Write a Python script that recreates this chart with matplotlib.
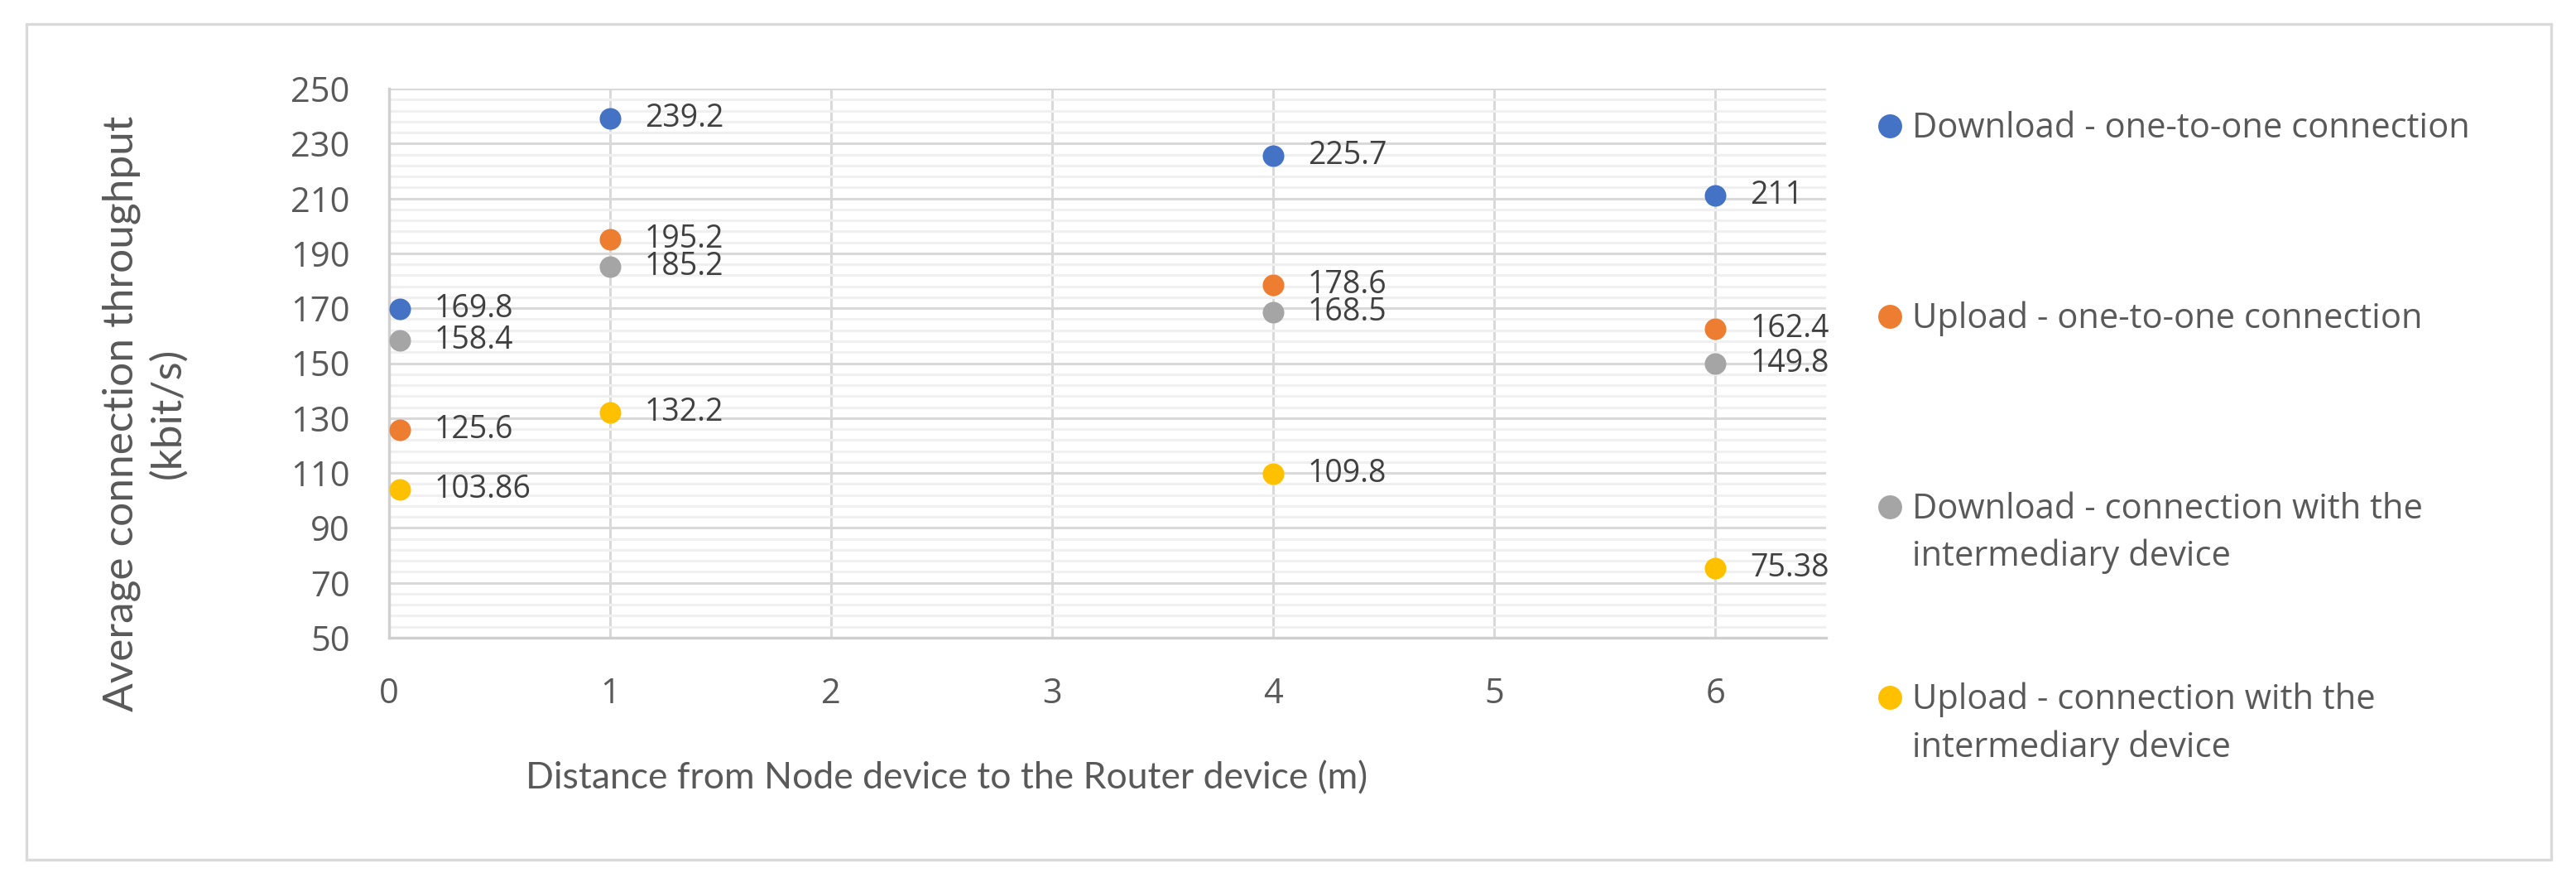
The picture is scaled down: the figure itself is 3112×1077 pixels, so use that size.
#!/usr/bin/env python3

# Throughput vs distance scatter (Excel-style chart)

import matplotlib
matplotlib.use("Agg")
import matplotlib.pyplot as plt
import numpy as np
from matplotlib.lines import Line2D
from matplotlib.patches import Rectangle

distance = [0.05, 1, 4, 6]

down_direct = [169.8, 239.2, 225.7, 211]
up_direct = [125.6, 195.2, 178.6, 162.4]
down_inter = [158.4, 185.2, 168.5, 149.8]
up_inter = [103.86, 132.2, 109.8, 75.38]

point_labels = [
    ["169.8", "239.2", "225.7", "211"],
    ["125.6", "195.2", "178.6", "162.4"],
    ["158.4", "185.2", "168.5", "149.8"],
    ["103.86", "132.2", "109.8", "75.38"],
]

series_names = [
    "Download - one-to-one connection",
    "Upload - one-to-one connection",
    "Download - connection with the\nintermediary device",
    "Upload - connection with the\nintermediary device",
]
colors = ["#4472C4", "#ED7D31", "#A5A5A5", "#FFC000"]

W, H = 3112, 1077
DPI = 200
TXT = "#595959"

fig = plt.figure(figsize=(W / DPI, H / DPI), dpi=DPI)
ax = fig.add_axes([470 / W, 1 - 770 / H, (2206 - 470) / W, (770 - 107) / H])

# outer chart border
fig.add_artist(Rectangle((32 / W, 1 - 1038 / H), (3082 - 32) / W, (1038 - 29) / H,
                         transform=fig.transFigure, fill=False,
                         edgecolor="#D9D9D9", linewidth=1.2))

ax.set_xlim(0, 6.5)
ax.set_ylim(50, 250)
ax.set_xticks(range(0, 7))
ax.set_yticks(np.arange(50, 251, 20))
ax.set_yticks(np.arange(50, 251, 4), minor=True)

ax.grid(which="minor", axis="y", color="#F0F0F0", linewidth=1.1, zorder=0)
ax.grid(which="major", axis="y", color="#D9D9D9", linewidth=1.1, zorder=1)
ax.grid(which="major", axis="x", color="#D9D9D9", linewidth=1.1, zorder=1)
ax.set_axisbelow(True)

for s in ["top", "right"]:
    ax.spines[s].set_visible(False)
for s in ["left", "bottom"]:
    ax.spines[s].set_color("#CFCFCF")
    ax.spines[s].set_linewidth(1.2)

ax.tick_params(which="both", length=0)
ax.tick_params(axis="x", pad=17, labelsize=15, labelcolor=TXT)
ax.tick_params(axis="y", pad=17, labelsize=15, labelcolor=TXT)
for lab in ax.get_xticklabels() + ax.get_yticklabels():
    lab.set_fontfamily("Open Sans")

all_series = [down_direct, up_direct, down_inter, up_inter]
for ys, c, labs in zip(all_series, colors, point_labels):
    ax.scatter(distance, ys, s=88, color=c, linewidths=0, zorder=3, clip_on=False)
    for xv, yv, t in zip(distance, ys, labs):
        ax.annotate(t, (xv, yv), xytext=(15, 0), textcoords="offset points",
                    ha="left", va="center", fontsize=13.5, color="#404040",
                    family="Open Sans", zorder=4)

# axis titles
fig.text(175 / W, 1 - 499 / H, "Average connection throughput\n(kbit/s)",
         rotation=90, ha="center", va="center", multialignment="center",
         fontsize=18.5, color=TXT, family="Lato", linespacing=1.25)
fig.text(1144 / W, 1 - 940 / H, "Distance from Node device to the Router device (m)",
         ha="center", va="center", fontsize=16, color=TXT, family="Lato")

# legend on the right, marker beside first line of each entry
rows = [152, 382, 612, 842]
for name, c, ry in zip(series_names, colors, rows):
    fig.add_artist(Line2D([2283 / W], [1 - ry / H], marker="o", markersize=9.4,
                          color=c, linestyle="none", transform=fig.transFigure))
    fig.text(2310 / W, 1 - (ry - 18) / H, name, ha="left", va="top",
             fontsize=15, color=TXT, family="Open Sans", linespacing=1.45)

fig.savefig("out.png", dpi=DPI, facecolor="white")
